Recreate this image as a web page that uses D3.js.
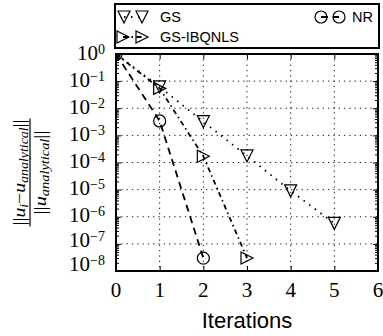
<!DOCTYPE html>
<html>
<head>
<meta charset="utf-8">
<script src="https://d3js.org/d3.v7.min.js"></script>
<style>
    body { margin: 0; background: #fff; }
</style>
</head>
<body>
<div id="chart"></div>
<script>
// data (relative error per iteration)
var gsIter = [0, 1, 2, 3, 4, 5];
var gsErr = [1, 0.061, 3.2e-3, 1.75e-4, 9e-6, 5.7e-7];
var ibqIter = [0, 1, 2, 3];
var ibqErr = [1, 0.054, 1.7e-4, 3e-8];
var nrIter = [0, 1, 2];
var nrErr = [1, 3.4e-3, 3e-8];
var xTicks = [0, 1, 2, 3, 4, 5, 6];
var yExps = [0, -1, -2, -3, -4, -5, -6, -7, -8];

var width = 383, height = 336;
var plot = {left: 116, right: 378, top: 54, bottom: 271};

var x = d3.scaleLinear().domain([0, 6]).range([plot.left, plot.right]);
var y = d3.scaleLog().domain([1e-8, 1]).range([plot.bottom, plot.top]);

var svg = d3.select('#chart').append('svg')
    .attr('width', width)
    .attr('height', height);

// marker shapes, centred on the bounding box like matplotlib
function triDown(s) { return 'M0,' + s + 'L' + (-s) + ',' + (-s) + 'L' + s + ',' + (-s) + 'Z'; }
function triRight(s) { return 'M' + s + ',0L' + (-s) + ',' + (-s) + 'L' + (-s) + ',' + s + 'Z'; }

var series = [
    {name: 'GS', xs: gsIter, ys: gsErr, dash: '1.5,5.5', marker: 'down'},
    {name: 'GS-IBQNLS', xs: ibqIter, ys: ibqErr, dash: '5,3.5,1.5,3.5', marker: 'right'},
    {name: 'NR', xs: nrIter, ys: nrErr, dash: '7,5', marker: 'circle'}
];

function drawMarker(g, type, cx, cy) {
    if (type === 'circle') {
        g.append('circle').attr('cx', cx).attr('cy', cy).attr('r', 6)
            .attr('fill', 'none').attr('stroke', '#000').attr('stroke-width', 1.2);
    } else {
        g.append('path')
            .attr('d', type === 'down' ? triDown(6) : triRight(6))
            .attr('transform', 'translate(' + cx + ',' + cy + ')')
            .attr('fill', 'none').attr('stroke', '#000').attr('stroke-width', 1.2)
            .attr('stroke-linejoin', 'miter');
    }
}

svg.append('clipPath').attr('id', 'clip')
    .append('rect')
    .attr('x', plot.left).attr('y', plot.top)
    .attr('width', plot.right - plot.left).attr('height', plot.bottom - plot.top);

// grid
var grid = svg.append('g');
grid.selectAll('.gx').data(xTicks.slice(1, -1)).enter().append('line')
    .attr('x1', d => x(d)).attr('x2', d => x(d))
    .attr('y1', plot.top).attr('y2', plot.bottom)
    .attr('stroke', '#000').attr('stroke-width', 0.9).attr('stroke-dasharray', '1.3,4');
grid.selectAll('.gy').data(yExps.slice(1, -1)).enter().append('line')
    .attr('y1', d => y(Math.pow(10, d))).attr('y2', d => y(Math.pow(10, d)))
    .attr('x1', plot.left).attr('x2', plot.right)
    .attr('stroke', '#000').attr('stroke-width', 0.9).attr('stroke-dasharray', '1.3,4');

// ticks (inward, on all four sides)
var majorY = yExps.map(e => Math.pow(10, e));
var minorY = [];
yExps.slice(1).forEach(function(e) {
    for (var k = 2; k < 10; k++) minorY.push(k * Math.pow(10, e));
});

svg.append('g').attr('transform', 'translate(' + plot.left + ',0)')
    .call(d3.axisLeft(y).tickValues(majorY).tickSize(-5).tickFormat(''));
svg.append('g').attr('transform', 'translate(' + plot.left + ',0)')
    .call(d3.axisLeft(y).tickValues(minorY).tickSize(-3).tickFormat(''));
svg.append('g').attr('transform', 'translate(' + plot.right + ',0)')
    .call(d3.axisRight(y).tickValues(majorY).tickSize(-5).tickFormat(''));
svg.append('g').attr('transform', 'translate(' + plot.right + ',0)')
    .call(d3.axisRight(y).tickValues(minorY).tickSize(-3).tickFormat(''));
svg.append('g').attr('transform', 'translate(0,' + plot.bottom + ')')
    .call(d3.axisBottom(x).tickValues(xTicks).tickSize(-5).tickFormat(''));
svg.append('g').attr('transform', 'translate(0,' + plot.top + ')')
    .call(d3.axisTop(x).tickValues(xTicks).tickSize(-5).tickFormat(''));
svg.selectAll('.domain').remove();
svg.selectAll('.tick line').attr('stroke', '#000').attr('stroke-width', 1);

// data
var data = svg.append('g').attr('clip-path', 'url(#clip)');
series.forEach(function(s) {
    var pts = s.xs.map((v, i) => [x(v), y(s.ys[i])]);
    data.append('path')
        .attr('d', d3.line()(pts))
        .attr('fill', 'none').attr('stroke', '#000')
        .attr('stroke-width', 1.8).attr('stroke-dasharray', s.dash);
    pts.forEach(p => drawMarker(data, s.marker, p[0], p[1]));
});

// frame
svg.append('rect')
    .attr('x', plot.left).attr('y', plot.top)
    .attr('width', plot.right - plot.left).attr('height', plot.bottom - plot.top)
    .attr('fill', 'none').attr('stroke', '#000').attr('stroke-width', 2);

// tick labels
svg.selectAll('.xl').data(xTicks).enter().append('text')
    .attr('x', d => x(d)).attr('y', 297)
    .attr('text-anchor', 'middle')
    .attr('font-family', 'Liberation Serif').attr('font-size', 21)
    .text(d => d);

var yOff = {'-7': 3, '-8': 0};
var yl = svg.selectAll('.yl').data(yExps).enter().append('text')
    .attr('x', 105)
    .attr('y', d => y(Math.pow(10, d)) + (d in yOff ? yOff[d] : 5.5))
    .attr('text-anchor', 'end')
    .attr('font-family', 'Liberation Serif').attr('font-size', 21)
    .text('10');
yl.append('tspan').attr('dy', -6).attr('font-size', 14)
    .text(d => d === 0 ? '0' : '\u2212' + (-d));

svg.append('text')
    .attr('x', (plot.left + plot.right) / 2).attr('y', 328)
    .attr('text-anchor', 'middle')
    .attr('font-family', 'Liberation Sans').attr('font-size', 22)
    .text('Iterations');

// y label as a fraction
var yLab = svg.append('g').attr('transform', 'translate(30,172.5) rotate(-90)');
yLab.append('line').attr('x1', -54).attr('x2', 54).attr('y1', 0).attr('y2', 0)
    .attr('stroke', '#000').attr('stroke-width', 1.2);
var num = yLab.append('text').attr('x', 0).attr('y', -5).attr('text-anchor', 'middle')
    .attr('font-family', 'Liberation Serif').attr('font-size', 17)
    .attr('textLength', 106).attr('lengthAdjust', 'spacingAndGlyphs');
num.append('tspan').text('||');
num.append('tspan').attr('font-style', 'italic').text('u');
num.append('tspan').attr('font-style', 'italic').attr('font-size', 12).attr('dy', 3).text('i');
num.append('tspan').attr('dy', -3).text('\u2212');
num.append('tspan').attr('font-style', 'italic').text('u');
num.append('tspan').attr('font-style', 'italic').attr('font-size', 12).attr('dy', 3).text('analytical');
num.append('tspan').attr('dy', -3).text('||');
var den = yLab.append('text').attr('x', 0).attr('y', 16).attr('text-anchor', 'middle')
    .attr('font-family', 'Liberation Serif').attr('font-size', 17)
    .attr('textLength', 84).attr('lengthAdjust', 'spacingAndGlyphs');
den.append('tspan').text('||');
den.append('tspan').attr('font-style', 'italic').text('u');
den.append('tspan').attr('font-style', 'italic').attr('font-size', 12).attr('dy', 3).text('analytical');
den.append('tspan').attr('dy', -3).text('||');

// legend
var leg = svg.append('g');
leg.append('rect').attr('x', 115).attr('y', 4).attr('width', 264).attr('height', 44)
    .attr('fill', '#fff').attr('stroke', '#000').attr('stroke-width', 2);
var legPos = [
    {s: series[0], x0: 124, x1: 142, ty: 160, y: 17},
    {s: series[1], x0: 123, x1: 142, ty: 160, y: 37},
    {s: series[2], x0: 321, x1: 339, ty: 352, y: 17}
];
legPos.forEach(function(l) {
    leg.append('line').attr('x1', l.x0).attr('x2', l.x1).attr('y1', l.y).attr('y2', l.y)
        .attr('stroke', '#000').attr('stroke-width', 1.8).attr('stroke-dasharray', l.s.dash);
    drawMarker(leg, l.s.marker, l.x0, l.y);
    drawMarker(leg, l.s.marker, l.x1, l.y);
    leg.append('text').attr('x', l.ty).attr('y', l.y + 5)
        .attr('font-family', 'Liberation Sans').attr('font-size', 14.5)
        .text(l.s.name);
});
</script>
</body>
</html>
